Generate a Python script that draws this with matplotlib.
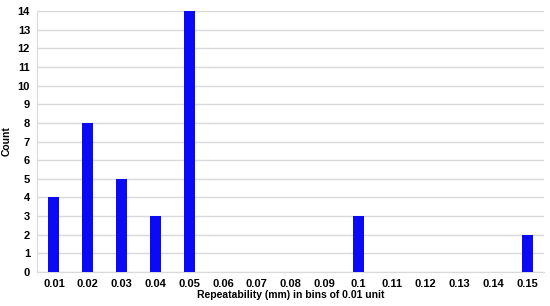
import matplotlib.pyplot as plt

plt.rcParams['font.family'] = ['Liberation Sans', 'DejaVu Sans']

# bins of repeatability and counts
bins = ["0.01", "0.02", "0.03", "0.04", "0.05", "0.06", "0.07", "0.08",
        "0.09", "0.1", "0.11", "0.12", "0.13", "0.14", "0.15"]
counts = [4, 8, 5, 3, 14, 0, 0, 0, 0, 3, 0, 0, 0, 0, 2]

fig = plt.figure(figsize=(5.5, 3.06), dpi=100)
ax = fig.add_axes([37 / 550, 1 - 272 / 306, 507 / 550, 261 / 306])

x = range(len(bins))
ax.bar(x, counts, width=0.32, color="#0a0af5", zorder=3)

ax.set_xlim(-0.5, len(bins) - 0.5)
ax.set_ylim(0, 14)
ax.set_yticks(range(0, 15))
ax.set_xticks(list(x))
ax.set_xticklabels(bins)
ax.grid(axis="y", color="#d9d9d9", linewidth=1, zorder=0)

for s in ["top", "right"]:
    ax.spines[s].set_visible(False)
ax.spines["left"].set_color("#d9d9d9")
ax.spines["bottom"].set_color("#d9d9d9")
ax.tick_params(length=0, labelsize=8, pad=5)
for lab in ax.get_xticklabels() + ax.get_yticklabels():
    lab.set_fontweight("bold")

ax.set_xlabel("Repeatability (mm) in bins of 0.01 unit", fontsize=7.5,
              fontweight="bold", labelpad=1)
ax.set_ylabel("Count", fontsize=7.5, fontweight="bold", labelpad=4)

fig.savefig("out.png", dpi=100)
